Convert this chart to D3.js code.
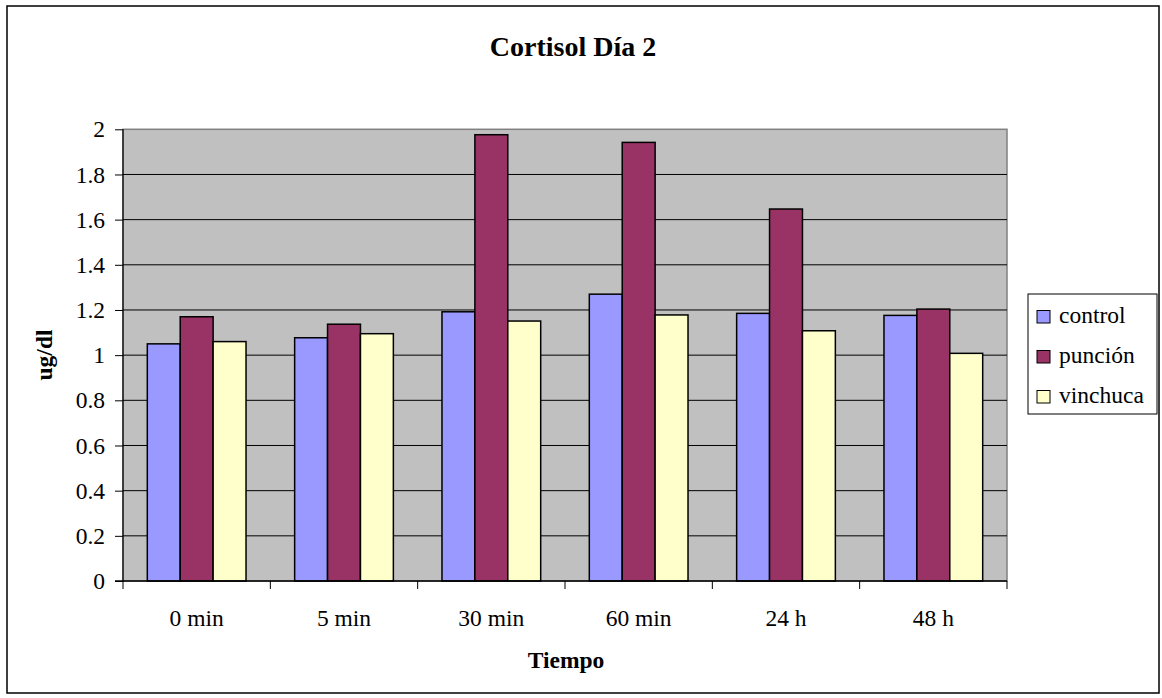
<!DOCTYPE html>
<html>
<head>
<meta charset="utf-8">
<script src="https://cdn.jsdelivr.net/npm/d3@7/dist/d3.min.js"></script>
<style>
  html, body { margin: 0; padding: 0; background: #fff; }
</style>
</head>
<body>
<svg id="chart" width="1162" height="698"></svg>
<script>
// Cortisol levels (ug/dl) on day 2, by sampling time and group
const categories = ["0 min", "5 min", "30 min", "60 min", "24 h", "48 h"];
const seriesNames = ["control", "punción", "vinchuca"];
const control  = [1.05, 1.077, 1.192, 1.27, 1.185, 1.176];
const puncion  = [1.17, 1.137, 1.976, 1.942, 1.647, 1.204];
const vinchuca = [1.06, 1.095, 1.151, 1.178, 1.108, 1.008];
const yTicks = [0, 0.2, 0.4, 0.6, 0.8, 1, 1.2, 1.4, 1.6, 1.8, 2];
const colors = ["#9999FF", "#993366", "#FFFFCC"];

const FONT = "Liberation Serif, Tinos, Times New Roman, serif";
const TXT = "23.5px";

const seriesValues = [control, puncion, vinchuca];
const rows = categories.map((c, i) => ({
  cat: c,
  vals: seriesNames.map((s, j) => ({ name: s, value: seriesValues[j][i], color: colors[j] }))
}));

const svg = d3.select("#chart");

// outer chart frame
svg.append("rect")
  .attr("x", 7).attr("y", 6).attr("width", 1152).attr("height", 687)
  .attr("fill", "#fff").attr("stroke", "#000").attr("stroke-width", 1.5);

const plot = { left: 123, top: 129.3, right: 1007, bottom: 581 };

const x = d3.scaleBand().domain(categories).range([plot.left, plot.right]).paddingInner(0).paddingOuter(0);
const y = d3.scaleLinear().domain([0, 2]).range([plot.bottom, plot.top]);
const bandInner = x.bandwidth() * 0.67;
const xs = d3.scaleBand().domain(seriesNames).range([0, bandInner]).padding(0);

// plot background
svg.append("rect")
  .attr("x", plot.left).attr("y", plot.top)
  .attr("width", plot.right - plot.left).attr("height", plot.bottom - plot.top)
  .attr("fill", "#C0C0C0").attr("stroke", "#808080").attr("stroke-width", 1.5);

// horizontal gridlines
svg.append("g").selectAll("line")
  .data(yTicks.filter(t => t > 0 && t < 2))
  .join("line")
  .attr("x1", plot.left).attr("x2", plot.right)
  .attr("y1", d => y(d)).attr("y2", d => y(d))
  .attr("stroke", "#000").attr("stroke-width", 1);

// bars
const groups = svg.append("g").selectAll("g")
  .data(rows)
  .join("g")
  .attr("transform", d => `translate(${x(d.cat) + (x.bandwidth() - bandInner) / 2},0)`);

groups.selectAll("rect")
  .data(d => d.vals)
  .join("rect")
  .attr("x", d => xs(d.name))
  .attr("y", d => y(d.value))
  .attr("width", xs.bandwidth())
  .attr("height", d => y(0) - y(d.value))
  .attr("fill", d => d.color)
  .attr("stroke", "#000").attr("stroke-width", 1.5);

// y axis
const yAxis = d3.axisLeft(y).tickValues(yTicks).tickSize(8).tickPadding(10)
  .tickFormat(d => d3.format("")(+d.toFixed(1)));
const gy = svg.append("g").attr("transform", `translate(${plot.left},0)`).call(yAxis);
gy.select(".domain").attr("stroke", "#000").attr("stroke-width", 1.2).attr("d", `M0,${plot.top}V${plot.bottom}`);
gy.selectAll(".tick line").attr("stroke", "#000");
gy.selectAll("text").style("font-family", FONT).style("font-size", TXT).attr("fill", "#000");

// x axis with ticks at category boundaries
const gx = svg.append("g").attr("transform", `translate(0,${plot.bottom})`);
gx.append("line").attr("x1", plot.left - 8).attr("x2", plot.right)
  .attr("y1", 0).attr("y2", 0).attr("stroke", "#000").attr("stroke-width", 1.5);
const boundaries = categories.map(c => x(c)).concat([plot.right]);
gx.selectAll("line.tk").data(boundaries).join("line").attr("class", "tk")
  .attr("x1", d => d).attr("x2", d => d).attr("y1", 0).attr("y2", 8)
  .attr("stroke", "#000").attr("stroke-width", 1);
gx.selectAll("text").data(categories).join("text")
  .attr("x", d => x(d) + x.bandwidth() / 2).attr("y", 45)
  .attr("text-anchor", "middle").style("font-family", FONT).style("font-size", TXT).attr("fill", "#000")
  .text(d => d);

// titles
svg.append("text").attr("x", 573).attr("y", 56).attr("text-anchor", "middle")
  .style("font-family", FONT).style("font-size", "28px").style("font-weight", "bold").text("Cortisol Día 2");
svg.append("text").attr("x", 566).attr("y", 668).attr("text-anchor", "middle")
  .style("font-family", FONT).style("font-size", TXT).style("font-weight", "bold").text("Tiempo");
svg.append("text").attr("transform", `translate(52,355) rotate(-90)`)
  .attr("text-anchor", "middle").style("font-family", FONT).style("font-size", TXT)
  .style("font-weight", "bold").text("ug/dl");

// legend
const lg = svg.append("g").attr("transform", "translate(1028,294)");
lg.append("rect").attr("width", 129).attr("height", 120)
  .attr("fill", "#fff").attr("stroke", "#000").attr("stroke-width", 1);
const items = lg.selectAll("g").data(seriesNames).join("g")
  .attr("transform", (d, i) => `translate(0,${29 + i * 40})`);
items.append("rect").attr("x", 9).attr("y", -12.5).attr("width", 13).attr("height", 12.5)
  .attr("fill", (d, i) => colors[i]).attr("stroke", "#000").attr("stroke-width", 1);
items.append("text").attr("x", 31).attr("y", 0).style("font-family", FONT).style("font-size", TXT)
  .attr("fill", "#000").text(d => d);
</script>
</body>
</html>
